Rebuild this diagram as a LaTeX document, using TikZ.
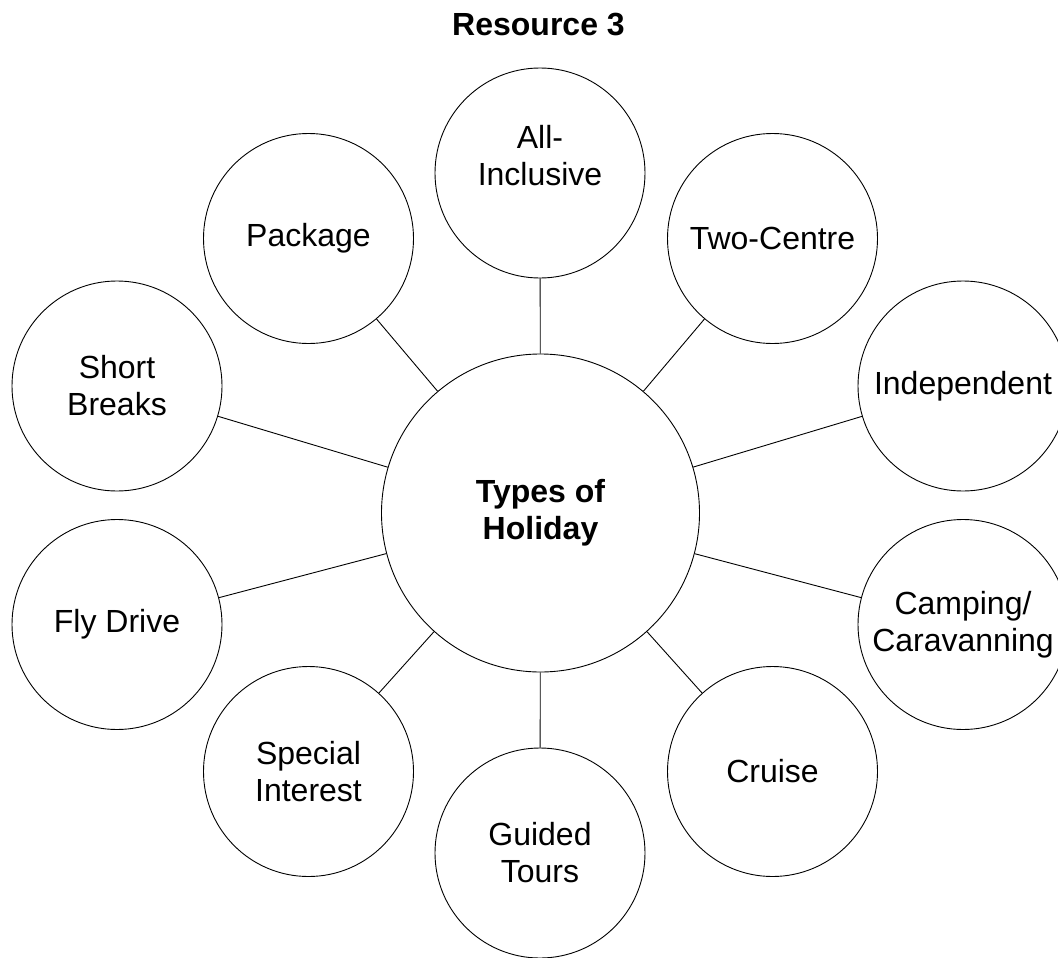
\documentclass[tikz,border=0pt]{standalone}
\usepackage{fontspec}
\setmainfont{Liberation Sans}
\usepackage{tikz}
\tikzset{>=latex}
\tikzset{
  bubble/.style={draw, circle, line width=0.9pt, minimum size=210pt, inner sep=0pt,
    align=center, font=\fontsize{32}{37}\selectfont},
  hub/.style={draw, circle, line width=0.9pt, minimum size=318pt, inner sep=0pt,
    align=center, font=\fontsize{32}{37}\selectfont\bfseries},
  spoke/.style={line width=0.9pt}
}

\begin{document}
\begin{tikzpicture}[x=1pt, y=-1pt]
            \useasboundingbox (0,0) rectangle (1058,958);
            \clip (0,0) rectangle (1058,958);
            \node[font=\fontsize{32}{37}\selectfont\bfseries] (title) at (538.5,24.5) {Resource 3};
            \node[hub] (hub) at (540.5,513) {Types of\\Holiday};
            \node[bubble, label={[align=center, font=\fontsize{32}{37}\selectfont, yshift=17.5pt]center:All-\\Inclusive}] (allinc) at (540,173) {};
            \node[bubble] (package) at (308.5,238.5) {Package};
            \node[bubble] (twocentre) at (772.5,238.5) {Two-Centre};
            \node[bubble] (short) at (117,386) {Short\\Breaks};
            \node[bubble] (indep) at (963,386) {Independent};
            \node[bubble] (flydrive) at (117,624.5) {Fly Drive};
            \node[bubble] (camping) at (963,624.5) {Camping/\\Caravanning};
            \node[bubble] (special) at (308.5,771.5) {Special\\Interest};
            \node[bubble] (cruise) at (772.5,771.5) {Cruise};
            \node[bubble] (guided) at (540,853) {Guided\\Tours};
            \foreach \n in {allinc,package,twocentre,short,indep,flydrive,camping,special,cruise,guided}
                \draw[spoke] (hub) -- (\n);
        \end{tikzpicture}
\end{document}
